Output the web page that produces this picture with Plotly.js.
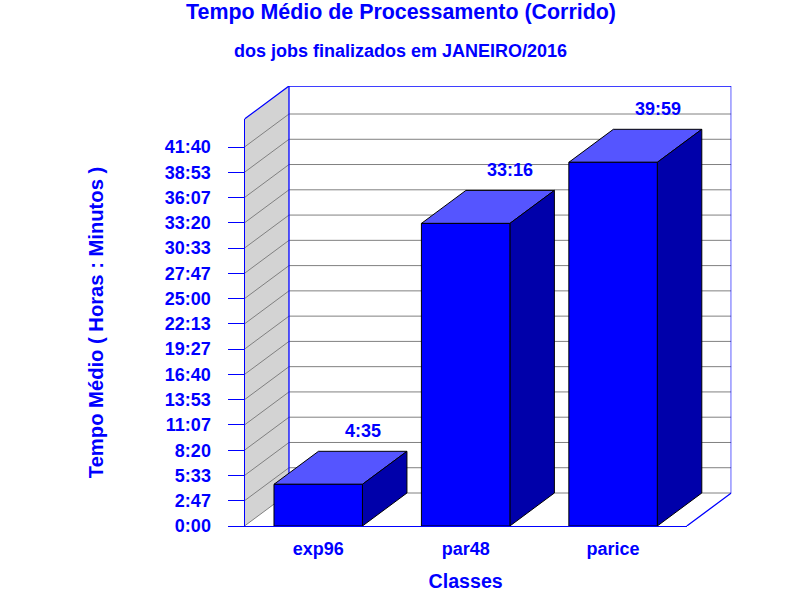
<!DOCTYPE html>
<html>
<head>
<meta charset="utf-8">
<script src="https://cdn.plot.ly/plotly-3.0.1.min.js"></script>
<style>html,body{margin:0;padding:0;background:#fff}</style>
</head>
<body>
<div id="chart" style="width:800px;height:600px"></div>
<script>
// Data
const categories = ["exp96", "par48", "parice"];
const valuesMinutes = [275, 1996, 2399];
const valueLabels = ["4:35", "33:16", "39:59"];
const tickLabels = ["0:00","2:47","5:33","8:20","11:07","13:53","16:40","19:27","22:13","25:00","27:47","30:33","33:20","36:07","38:53","41:40"];
const tickMinutes = [0,166.7,333.3,500,666.7,833.3,1000,1166.7,1333.3,1500,1666.7,1833.3,2000,2166.7,2333.3,2500];

// Plot frame geometry (pixels in the 800x600 picture)
const W = 800, H = 600;
const frontL = 244.5, frontR = 686.8, frontB = 526, frontT = 119;
const depthPxX = 44.5, depthPxY = 33;
const pxPerMin = 379 / 2500;

const yTop = (frontB - frontT) / pxPerMin;
const DX = depthPxX * 3 / (frontR - frontL);
const DY = depthPxY / pxPerMin;
const barW = 0.6;

const BLUE = "#0000ff", GREY = "#808080";
const font = (size) => ({family: '"Liberation Sans", Arial, sans-serif', size, color: BLUE, weight: "bold"});

// Wall, grid and frame in the depth-aware subplot
const wall = {x:[0,DX,DX,0,0], y:[0,DY,yTop+DY,yTop,0], mode:"lines", fill:"toself",
  fillcolor:"#d3d3d3", line:{width:0}, hoverinfo:"skip", xaxis:"x", yaxis:"y"};
const gx = [], gy = [];
tickMinutes.forEach(v => { gx.push(0, DX, 3+DX, null); gy.push(v, v+DY, v+DY, null); });
const grid = {x:gx, y:gy, mode:"lines", line:{color:GREY, width:1}, hoverinfo:"skip", xaxis:"x", yaxis:"y"};
const frame = {x:[0,DX,3+DX,3+DX,3,null,DX,DX], y:[yTop,yTop+DY,yTop+DY,DY,0,null,DY,yTop+DY],
  mode:"lines", line:{color:BLUE, width:1.3}, hoverinfo:"skip", xaxis:"x", yaxis:"y"};

const tx = [], ty = [], sx = [], sy = [];
valuesMinutes.forEach((v, i) => {
  const l = i + 0.5 - barW/2, r = i + 0.5 + barW/2;
  tx.push(l, r, r+DX, l+DX, l, null); ty.push(v, v, v+DY, v+DY, v, null);
  sx.push(r, r+DX, r+DX, r, r, null); sy.push(0, DY, v+DY, v, 0, null);
});
const topFace = {x:tx, y:ty, mode:"lines", fill:"toself", fillcolor:"#5555ff", line:{color:"#000", width:1}, hoverinfo:"skip", xaxis:"x", yaxis:"y"};
const sideFace = {x:sx, y:sy, mode:"lines", fill:"toself", fillcolor:"#0000aa", line:{color:"#000", width:1}, hoverinfo:"skip", xaxis:"x", yaxis:"y"};

// Front faces: a true bar trace on the visible axes
const bars = {type:"bar", x:categories, y:valuesMinutes, width:barW,
  marker:{color:BLUE, line:{color:"#000", width:1}}, xaxis:"x2", yaxis:"y2", hoverinfo:"x+y"};

// Value labels hover above the back edge of each bar's top face
const valueAnnotations = valueLabels.map((t, i) => ({text:t, font:font(18), xref:"x", yref:"y",
  x:i + 0.5 + DX, y:valuesMinutes[i] + DY, yshift:20.5, xanchor:"center", yanchor:"middle", showarrow:false}));

const layout = {
  width:W, height:H, showlegend:false, paper_bgcolor:"#fff", plot_bgcolor:"rgba(0,0,0,0)",
  margin:{l:0,r:0,t:0,b:0,pad:0},
  title:{text:"Tempo Médio de Processamento (Corrido)", font:font(21.4), x:401/W, xanchor:"center", xref:"paper", y:1-11/H, yanchor:"middle", yref:"paper"},
  annotations:[{text:"dos jobs finalizados em JANEIRO/2016", font:font(18), xref:"paper", yref:"paper", x:400.5/W, y:1-51/H, xanchor:"center", yanchor:"middle", showarrow:false}].concat(valueAnnotations),
  xaxis:{domain:[frontL/W,(frontR+depthPxX)/W], range:[0,3+DX], visible:false, fixedrange:true},
  yaxis:{domain:[1-frontB/H,1-(frontT-depthPxY)/H], range:[0,yTop+DY], visible:false, fixedrange:true},
  xaxis2:{domain:[frontL/W,frontR/W], anchor:"y2", type:"category", categoryorder:"array", categoryarray:categories,
    range:[-0.5,2.5], showline:true, linecolor:BLUE, linewidth:1, ticks:"", tickfont:font(18), showgrid:false, zeroline:false,
    title:{text:"Classes", font:font(19.6), standoff:16}, automargin:false, fixedrange:true, ticklabelstandoff:6},
  yaxis2:{domain:[1-frontB/H,1-frontT/H], anchor:"x2", range:[0,yTop], showline:true, linecolor:BLUE, linewidth:1,
    ticks:"outside", ticklen:16, tickcolor:BLUE, tickwidth:1, tickmode:"array", tickvals:tickMinutes, ticktext:tickLabels,
    tickfont:font(18), showgrid:false, zeroline:false, ticklabelstandoff:13,
    title:{text:"Tempo Médio ( Horas : Minutos )", font:font(20.2), standoff:55}, automargin:false, fixedrange:true}
};

Plotly.newPlot("chart", [wall, grid, frame, topFace, sideFace, bars], layout, {displayModeBar:false, staticPlot:true});
</script>
</body>
</html>
